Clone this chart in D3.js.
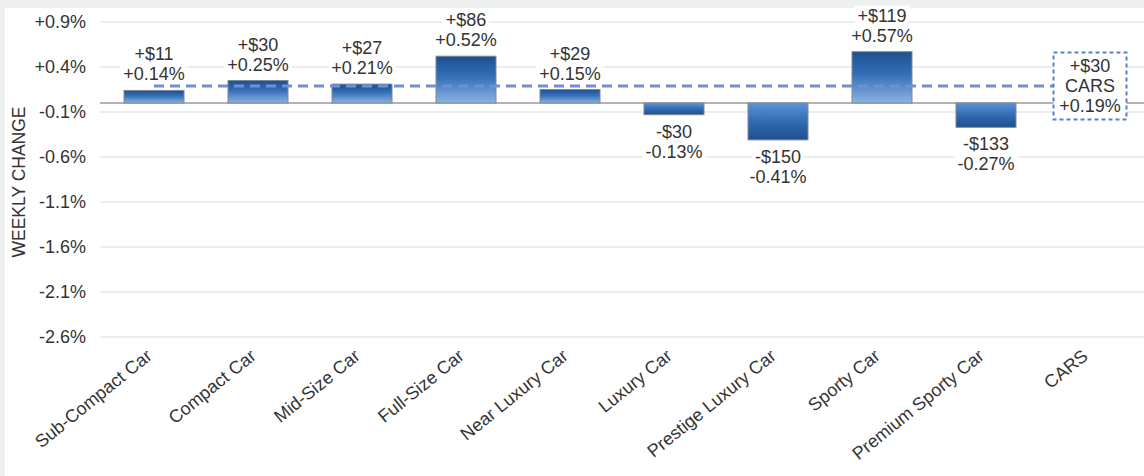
<!DOCTYPE html>
<html>
<head>
<meta charset="utf-8">
<script src="https://cdn.jsdelivr.net/npm/d3@7"></script>
<style>
  html, body { margin: 0; padding: 0; background: #ffffff; }
  svg { display: block; font-family: "Liberation Sans", Arial, Helvetica, sans-serif; }
</style>
</head>
<body>
<svg id="chart" width="1144" height="476"></svg>
<script>
// ---- data ----
const categories = ["Sub-Compact Car","Compact Car","Mid-Size Car","Full-Size Car","Near Luxury Car","Luxury Car","Prestige Luxury Car","Sporty Car","Premium Sporty Car","CARS"];
const segmentCategories = categories.slice(0, 9);
const pctValues = [0.14, 0.25, 0.21, 0.52, 0.15, -0.13, -0.41, 0.57, -0.27];
const dollarValues = [11, 30, 27, 86, 29, -30, -150, 119, -133];
const carsPct = 0.19;
const carsDollar = 30;
const yTicks = [0.9, 0.4, -0.1, -0.6, -1.1, -1.6, -2.1, -2.6];

// ---- setup ----
const W = 1144, H = 476;
const svg = d3.select("#chart");
const font = 18;

const x = d3.scaleBand().domain(categories).range([102, 1142]).paddingInner(0.4231).paddingOuter(0.21155);
const y = d3.scaleLinear().domain([-2.6, 0.9]).range([337, 22]);

const fmtPct = v => (v >= 0 ? "+" : "-") + Math.abs(v).toFixed(2) + "%";
const fmtTick = v => (v >= 0 ? "+" : "-") + Math.abs(v).toFixed(1) + "%";
const fmtDollar = v => (v >= 0 ? "+$" : "-$") + Math.abs(v);

// frame strips
svg.append("rect").attr("x", 0).attr("y", 0).attr("width", W).attr("height", H).attr("fill", "#ffffff");
svg.append("rect").attr("x", 0).attr("y", 0).attr("width", W).attr("height", 8).attr("fill", "#eef0f0");
svg.append("rect").attr("x", 0).attr("y", 0).attr("width", 5).attr("height", H).attr("fill", "#eef0f0");

// gradients
const defs = svg.append("defs");
const gPos = defs.append("linearGradient").attr("id", "gPos").attr("x1", 0).attr("y1", 0).attr("x2", 0).attr("y2", 1);
gPos.append("stop").attr("offset", "0%").attr("stop-color", "#1d4f8f");
gPos.append("stop").attr("offset", "45%").attr("stop-color", "#3570b8");
gPos.append("stop").attr("offset", "100%").attr("stop-color", "#8db2e2");
const gNeg = defs.append("linearGradient").attr("id", "gNeg").attr("x1", 0).attr("y1", 0).attr("x2", 0).attr("y2", 1);
gNeg.append("stop").attr("offset", "0%").attr("stop-color", "#5c93d6");
gNeg.append("stop").attr("offset", "55%").attr("stop-color", "#2f68b0");
gNeg.append("stop").attr("offset", "100%").attr("stop-color", "#1d4f8f");

// gridlines + y axis labels
const yAxis = d3.axisLeft(y).tickValues(yTicks).tickFormat(fmtTick).tickSize(0).tickPadding(0);
const yg = svg.append("g").attr("transform", "translate(86,0)").call(yAxis);
yg.select(".domain").remove();
yg.selectAll("text").attr("font-size", font).attr("fill", "#333").attr("font-family", "Liberation Sans, Arial, sans-serif");

svg.append("g").selectAll("line").data(yTicks).join("line")
  .attr("x1", 100).attr("x2", W).attr("y1", d => y(d)).attr("y2", d => y(d))
  .attr("stroke", "#dcdcdc").attr("stroke-width", 1.2);

// zero line
svg.append("line").attr("x1", 100).attr("x2", W).attr("y1", y(0)).attr("y2", y(0))
  .attr("stroke", "#9a9a9a").attr("stroke-width", 1.5);

// y title
svg.append("text").attr("transform", `translate(25,182) rotate(-90)`)
  .attr("text-anchor", "middle").attr("font-size", 17.5).attr("fill", "#333").text("WEEKLY CHANGE");

// label groups (with white backgrounds) drawn before bars
const labelLayer = svg.append("g");
const segData = segmentCategories.map((c, i) => ({ c, p: pctValues[i], d: dollarValues[i] }));
segData.forEach(s => {
  const cx = x(s.c) + x.bandwidth() / 2;
  const g = labelLayer.append("g");
  let b1, b2;
  if (s.p >= 0) {
    const top = y(s.p);
    b1 = top - 30; b2 = top - 10;
  } else {
    const bot = y(s.p);
    b1 = bot + 23; b2 = bot + 43;
  }
  const t1 = g.append("text").attr("x", cx).attr("y", b1).attr("text-anchor", "middle").attr("font-size", font).attr("fill", "#333").text(fmtDollar(s.d));
  const t2 = g.append("text").attr("x", cx).attr("y", b2).attr("text-anchor", "middle").attr("font-size", font).attr("fill", "#333").text(fmtPct(s.p));
  [t1, t2].forEach(t => {
    const bb = t.node().getBBox();
    g.insert("rect", "text").attr("x", bb.x - 3).attr("y", bb.y).attr("width", bb.width + 6).attr("height", bb.height).attr("fill", "#fff");
  });
});

// bars
svg.append("g").selectAll("rect").data(segData).join("rect")
  .attr("x", d => x(d.c))
  .attr("width", x.bandwidth())
  .attr("y", d => Math.min(y(d.p), y(0)))
  .attr("height", d => Math.abs(y(d.p) - y(0)))
  .attr("fill", d => d.p >= 0 ? "url(#gPos)" : "url(#gNeg)")
  .attr("stroke", "#7d8a99").attr("stroke-width", 1);

// CARS box geometry
const carsCx = x("CARS") + x.bandwidth() / 2;
const boxW = 73, boxH = 67;
const boxX = carsCx - boxW / 2, boxY = y(carsPct) - boxH / 2;

// average dashed line
svg.append("line")
  .attr("x1", x(categories[0]) + x.bandwidth() / 2).attr("x2", boxX)
  .attr("y1", y(carsPct)).attr("y2", y(carsPct))
  .attr("stroke", "#6f8fd8").attr("stroke-width", 3).attr("stroke-dasharray", "10,6");

// CARS box
svg.append("rect").attr("x", boxX).attr("y", boxY).attr("width", boxW).attr("height", boxH)
  .attr("fill", "#fff").attr("stroke", "#5b7fd0").attr("stroke-width", 2).attr("stroke-dasharray", "4,3");
[fmtDollar(carsDollar), "CARS", fmtPct(carsPct)].forEach((t, i) => {
  svg.append("text").attr("x", carsCx).attr("y", y(carsPct) + (i - 1) * 20 + 6)
    .attr("text-anchor", "middle").attr("font-size", font).attr("fill", "#333").text(t);
});

// x axis labels
const xAxis = d3.axisBottom(x).tickSize(0).tickPadding(0);
const xg = svg.append("g").attr("transform", "translate(0,352)").call(xAxis);
xg.select(".domain").remove();
xg.selectAll("text")
  .attr("font-size", font).attr("fill", "#333").attr("font-family", "Liberation Sans, Arial, sans-serif")
  .attr("text-anchor", "end")
  .attr("dy", "0.72em")
  .attr("transform", "translate(-9,-4) rotate(-39)");
</script>
</body>
</html>
